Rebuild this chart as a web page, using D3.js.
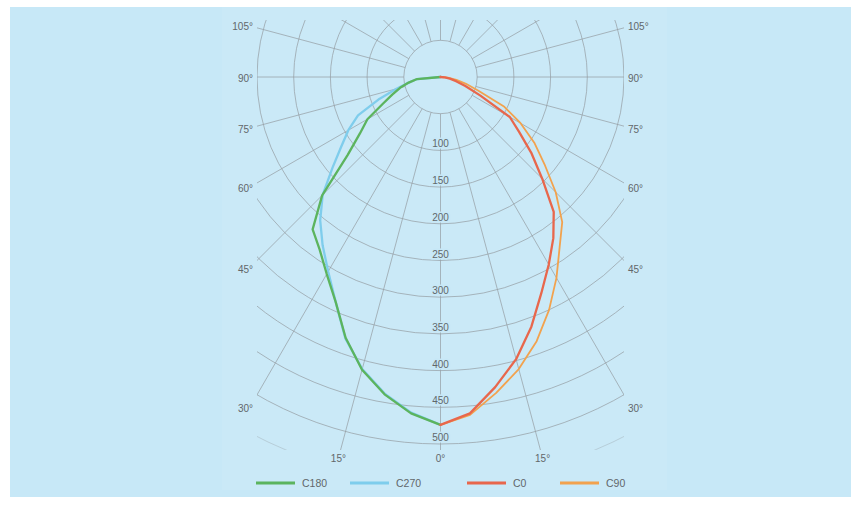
<!DOCTYPE html>
<html>
<head>
<meta charset="utf-8">
<script src="https://cdn.jsdelivr.net/npm/d3@7"></script>
<style>
  html, body { margin: 0; padding: 0; background: #ffffff; }
  svg { display: block; }
  text { font-family: "Liberation Sans", Arial, sans-serif; }
</style>
</head>
<body>
<svg id="chart" width="861" height="511"></svg>
<script>
// ---------- DATA ----------
const angles = [0, 5, 10, 15, 20, 25, 30, 35, 40, 45, 50, 55, 60, 65, 70, 75, 80, 85, 90];
const C180 = [474, 460, 439, 413, 378, 338, 310, 287, 271, 228, 165, 134, 115, 87, 70, 57, 44, 32, 0];
const C270 = [474, 459, 438, 412, 379, 338, 306, 280, 255, 227, 192, 165, 145, 124, 90, 62, 44, 32, 0];
const C0   = [474, 460, 429, 398, 362, 325, 295, 268, 240, 196, 162, 131, 109, 60, 36, 22, 13, 6, 0];
const C90  = [474, 462, 437, 412, 383, 350, 316, 283, 258, 222, 185, 156, 126, 96, 55, 36, 22, 10, 0];

const seriesNames = ["C180", "C270", "C0", "C90"];
const seriesSides = ["left", "left", "right", "right"];
const seriesColors = ["#5cb45e", "#7fcdec", "#e8674c", "#f2a24e"];

const radialTicks = [100, 150, 200, 250, 300, 350, 400, 450, 500];
const gridCircles = [50, 100, 150, 200, 250, 300, 350, 400, 450, 500, 550];
const gridAngles = [0, 15, 30, 45, 60, 75, 90, 105, 120, 135, 150, 165, 180];
const sideAngleLabels = [30, 45, 60, 75, 90, 105];
const bottomAngleLabels = [0, 15];

// ---------- LAYOUT ----------
const svg = d3.select("#chart");
const cx = 440.5, cy = 77;
const r = d3.scaleLinear().domain([0, 500]).range([0, 367]);
const toRad = d => d * Math.PI / 180;
const bg = "#c7e8f7";
const gridColor = "#959ea3";
const textColor = "#62676a";

svg.append("rect").attr("x", 10).attr("y", 7).attr("width", 841).attr("height", 490).attr("fill", bg);
svg.append("rect").attr("x", 222).attr("y", 7).attr("width", 445).attr("height", 483)
  .attr("fill", "#ffffff").attr("opacity", 0.06);

svg.append("clipPath").attr("id", "gclip")
  .append("rect").attr("x", cx - 183.5).attr("y", 20).attr("width", 367).attr("height", 430);

const g = svg.append("g").attr("transform", `translate(${cx},${cy})`);
const grid = g.append("g").attr("clip-path", "url(#gclip)").attr("transform", `translate(${-cx},${-cy})`)
  .append("g").attr("transform", `translate(${cx},${cy})`);

// circles
grid.selectAll("circle.grid").data(gridCircles).enter().append("circle")
  .attr("class", "grid")
  .attr("r", d => r(d))
  .attr("fill", "none")
  .attr("stroke", gridColor)
  .attr("stroke-opacity", d => d === 550 ? 0.4 : 0.8)
  .attr("stroke-width", 0.9);

// radial lines (both sides)
const spokes = [];
gridAngles.forEach(a => { spokes.push(a); if (a !== 0 && a !== 180) spokes.push(-a); });
grid.selectAll("line.spoke").data(spokes).enter().append("line")
  .attr("class", "spoke")
  .attr("x1", d => r(50) * Math.sin(toRad(d)))
  .attr("y1", d => r(50) * Math.cos(toRad(d)))
  .attr("x2", d => r(800) * Math.sin(toRad(d)))
  .attr("y2", d => r(800) * Math.cos(toRad(d)))
  .attr("stroke", gridColor)
  .attr("stroke-opacity", 0.8)
  .attr("stroke-width", 0.9);

// radial value labels
g.selectAll("text.rtick").data(radialTicks).enter().append("text")
  .attr("class", "rtick")
  .attr("x", 0)
  .attr("y", d => r(d) - 6.5)
  .attr("dy", "0.35em")
  .attr("text-anchor", "middle")
  .attr("font-size", 10)
  .attr("fill", textColor)
  .attr("stroke", bg)
  .attr("stroke-width", 3)
  .attr("paint-order", "stroke")
  .text(d => d);

// side angle labels
const sideLabels = [];
sideAngleLabels.forEach(a => { sideLabels.push({ a, s: -1 }); sideLabels.push({ a, s: 1 }); });
g.selectAll("text.aside").data(sideLabels).enter().append("text")
  .attr("class", "aside")
  .attr("x", d => d.s * 187.5)
  .attr("y", d => 191 * Math.cos(toRad(d.a)) / Math.sin(toRad(d.a)) + 1)
  .attr("dy", "0.35em")
  .attr("text-anchor", d => d.s < 0 ? "end" : "start")
  .attr("font-size", 10)
  .attr("fill", textColor)
  .text(d => d.a + "°");

// bottom angle labels
const botLabels = [];
bottomAngleLabels.forEach(a => { if (a === 0) botLabels.push({ a, s: 0 }); else { botLabels.push({ a, s: -1 }); botLabels.push({ a, s: 1 }); } });
g.selectAll("text.abot").data(botLabels).enter().append("text")
  .attr("class", "abot")
  .attr("x", d => d.s * 381 * Math.tan(toRad(d.a)))
  .attr("y", 381)
  .attr("dy", "0.35em")
  .attr("text-anchor", "middle")
  .attr("font-size", 10)
  .attr("fill", textColor)
  .text(d => d.a + "°");

// curves
const seriesValues = [C180, C270, C0, C90];
const drawOrder = [1, 0, 3, 2];
drawOrder.forEach(i => {
  const side = seriesSides[i];
  const line = d3.lineRadial()
    .angle(d => side === "right" ? Math.PI - toRad(d.a) : Math.PI + toRad(d.a))
    .radius(d => r(d.v))
    .curve(d3.curveLinear);
  const pts = angles.map((a, k) => ({ a, v: seriesValues[i][k] }));
  g.append("path")
    .datum(pts)
    .attr("d", line)
    .attr("fill", "none")
    .attr("stroke", seriesColors[i])
    .attr("stroke-width", i === 3 ? 1.8 : 2.3)
    .attr("stroke-linejoin", "round")
    .attr("stroke-linecap", "round");
});

// legend
const legendX = [256, 350, 467, 560];
const legY = 483;
const leg = svg.append("g");
seriesNames.forEach((name, i) => {
  leg.append("line")
    .attr("x1", legendX[i]).attr("x2", legendX[i] + 39)
    .attr("y1", legY).attr("y2", legY)
    .attr("stroke", seriesColors[i]).attr("stroke-width", 3);
  leg.append("text")
    .attr("x", legendX[i] + 46).attr("y", legY)
    .attr("dy", "0.35em")
    .attr("font-size", 10.5)
    .attr("fill", textColor)
    .text(name);
});
</script>
</body>
</html>
